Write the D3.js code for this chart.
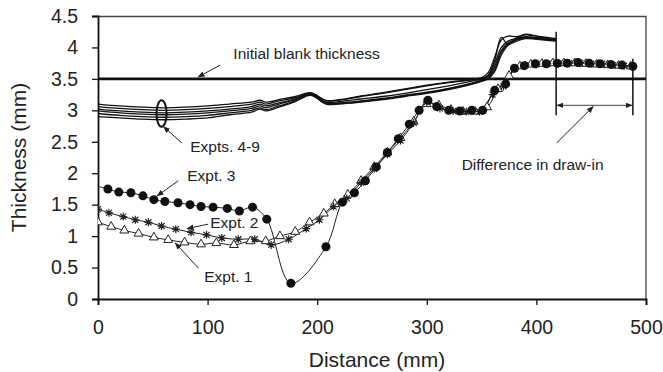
<!DOCTYPE html>
<html>
<head>
<meta charset="utf-8">
<script src="https://cdn.jsdelivr.net/npm/d3@7"></script>
<style>
  body { margin: 0; background: #fff; }
  svg { display: block; font-family: Arial, "Liberation Sans", sans-serif; }
</style>
</head>
<body>
<div id="chart"></div>
<script>
var width = 663,
    height = 372,
    margin = {top: 16, right: 17, bottom: 73, left: 98};

// expts 4-9 : plain lines on a shared distance grid
var simDist = [0, 20, 40, 60, 80, 100, 120, 140, 148, 153, 165, 180, 194, 208, 220, 240, 260, 280, 300, 320, 340, 350, 356, 362, 368, 374, 382, 390, 400, 418];
var expt4 = [3.10, 3.07, 3.05, 3.04, 3.05, 3.07, 3.10, 3.13, 3.16, 3.13, 3.17, 3.22, 3.28, 3.16, 3.17, 3.23, 3.28, 3.34, 3.40, 3.45, 3.49, 3.52, 3.60, 3.85, 4.12, 4.18, 4.17, 4.20, 4.18, 4.14];
var expt5 = [3.06, 3.03, 3.01, 3.00, 3.01, 3.03, 3.06, 3.10, 3.13, 3.10, 3.15, 3.20, 3.27, 3.15, 3.16, 3.22, 3.27, 3.33, 3.39, 3.44, 3.48, 3.50, 3.56, 3.80, 4.16, 4.05, 4.15, 4.21, 4.18, 4.12];
var expt6 = [3.02, 2.99, 2.97, 2.96, 2.97, 2.99, 3.02, 3.06, 3.10, 3.07, 3.12, 3.18, 3.26, 3.13, 3.14, 3.18, 3.22, 3.27, 3.33, 3.39, 3.46, 3.50, 3.55, 3.75, 4.00, 4.10, 4.15, 4.17, 4.16, 4.13];
var expt7 = [2.99, 2.96, 2.94, 2.93, 2.94, 2.96, 2.99, 3.03, 3.07, 3.04, 3.10, 3.17, 3.25, 3.12, 3.12, 3.15, 3.19, 3.24, 3.29, 3.35, 3.43, 3.48, 3.54, 3.70, 3.95, 4.07, 4.13, 4.16, 4.15, 4.12];
var expt8 = [2.95, 2.92, 2.90, 2.89, 2.90, 2.92, 2.96, 3.00, 3.04, 3.01, 3.07, 3.15, 3.25, 3.11, 3.11, 3.14, 3.18, 3.23, 3.28, 3.34, 3.42, 3.47, 3.52, 3.66, 3.92, 4.05, 4.12, 4.15, 4.14, 4.11];
var expt9 = [2.90, 2.88, 2.86, 2.85, 2.86, 2.88, 2.93, 2.97, 3.02, 2.99, 3.05, 3.14, 3.24, 3.10, 3.10, 3.13, 3.17, 3.22, 3.27, 3.33, 3.41, 3.46, 3.50, 3.62, 3.88, 4.03, 4.10, 4.14, 4.13, 4.10];

// expt 3 : filled circles
var e3Dist = [0, 9, 19, 30, 41, 51, 61, 73, 84, 94, 105, 118, 129, 141, 154, 176, 208, 223, 234, 244, 254, 264, 274, 284, 293, 301, 309, 320, 330, 341, 351, 362, 372, 380, 389, 399, 409, 419, 428, 438, 448, 458, 468, 478, 488];
var e3Thick = [1.79, 1.75, 1.70, 1.69, 1.64, 1.58, 1.55, 1.53, 1.50, 1.47, 1.46, 1.44, 1.40, 1.46, 1.27, 0.25, 0.83, 1.54, 1.69, 1.88, 2.10, 2.33, 2.55, 2.78, 3.00, 3.16, 3.06, 3.00, 2.99, 3.00, 3.00, 3.32, 3.42, 3.67, 3.71, 3.74, 3.74, 3.75, 3.75, 3.76, 3.75, 3.74, 3.73, 3.72, 3.70];

// expt 2 : stars
var e2Dist = [0, 10, 23, 34, 46, 58, 71, 85, 99, 113, 128, 143, 158, 174, 190, 202, 215, 227, 240, 252, 264, 276, 288, 300, 312, 324, 336, 348, 360, 370, 380, 390, 400, 410, 420, 430, 440, 450, 460, 470, 480, 488];
var e2Thick = [1.43, 1.37, 1.31, 1.26, 1.22, 1.16, 1.11, 1.06, 1.02, 0.97, 0.95, 0.95, 0.86, 0.95, 1.12, 1.26, 1.47, 1.60, 1.85, 2.07, 2.30, 2.52, 2.80, 3.13, 3.03, 2.99, 2.98, 2.98, 3.25, 3.38, 3.66, 3.72, 3.73, 3.74, 3.74, 3.75, 3.75, 3.74, 3.74, 3.72, 3.71, 3.69];

// expt 1 : open triangles
var e1Dist = [0, 12, 24, 37, 51, 64, 79, 94, 108, 124, 139, 153, 166, 180, 193, 206, 216, 228, 240, 252, 264, 276, 288, 300, 311, 322, 333, 344, 355, 365, 375, 385, 395, 405, 415, 425, 435, 445, 455, 465, 475, 486];
var e1Thick = [1.22, 1.15, 1.09, 1.04, 0.98, 0.94, 0.90, 0.87, 0.89, 0.86, 0.92, 0.92, 1.00, 1.07, 1.22, 1.36, 1.51, 1.66, 1.88, 2.10, 2.33, 2.56, 2.82, 3.10, 3.08, 3.01, 2.98, 2.98, 3.05, 3.34, 3.55, 3.70, 3.73, 3.74, 3.75, 3.75, 3.75, 3.74, 3.73, 3.72, 3.71, 3.70];

var blankThickness = 3.5;
var drawIn = [418, 488];

var xTicks = [0, 100, 200, 300, 400, 500];
var yTicks = [0, 0.5, 1, 1.5, 2, 2.5, 3, 3.5, 4, 4.5];

var svg = d3.select("#chart").append("svg")
    .attr("width", width)
    .attr("height", height);

var defs = svg.append("defs");
defs.append("marker")
    .attr("id", "head")
    .attr("viewBox", "0 0 10 10")
    .attr("refX", 9).attr("refY", 5)
    .attr("markerWidth", 7).attr("markerHeight", 7)
    .attr("markerUnits", "userSpaceOnUse")
    .attr("orient", "auto-start-reverse")
    .append("path")
    .attr("d", "M0,1 L10,5 L0,9 z")
    .attr("fill", "#222");
defs.append("clipPath").attr("id", "plotclip")
    .append("rect")
    .attr("width", width - margin.left - margin.right)
    .attr("height", height - margin.top - margin.bottom);

var g = svg.append("g")
    .attr("transform", "translate(" + margin.left + "," + margin.top + ")");

var w = width - margin.left - margin.right,
    h = height - margin.top - margin.bottom;

var x = d3.scaleLinear().domain([0, 500]).range([0, w]);
var y = d3.scaleLinear().domain([0, 4.5]).range([h, 0]);

// frame (top + right)
g.append("path")
    .attr("d", "M0,0.5 H" + w + " V" + h)
    .attr("fill", "none")
    .attr("stroke", "#444")
    .attr("stroke-width", 1.3);

// axes
var xAxis = g.append("g")
    .attr("transform", "translate(0," + h + ")")
    .call(d3.axisBottom(x).tickValues(xTicks).tickSize(6).tickPadding(15));
var yAxis = g.append("g")
    .call(d3.axisLeft(y).tickValues(yTicks).tickSize(6).tickPadding(14)
      .tickFormat(function(d) { return d; }));

[xAxis, yAxis].forEach(function(a) {
  a.select(".domain").attr("stroke", "#111").attr("stroke-width", 1.8);
  a.selectAll(".tick line").attr("stroke", "#111").attr("stroke-width", 1.3);
  a.selectAll(".tick text")
    .attr("fill", "#222")
    .style("font-size", "19.5px")
    .style("font-family", "Arial, 'Liberation Sans', sans-serif");
});

// axis titles
svg.append("text")
    .attr("x", margin.left + w / 2 + 5)
    .attr("y", 367)
    .attr("text-anchor", "middle")
    .style("font-size", "21px")
    .attr("fill", "#222")
    .text("Distance (mm)");
svg.append("text")
    .attr("transform", "translate(26," + (margin.top + h / 2) + ") rotate(-90)")
    .attr("text-anchor", "middle")
    .style("font-size", "21px")
    .attr("fill", "#222")
    .text("Thickness (mm)");

var plot = g.append("g").attr("clip-path", "url(#plotclip)");

// initial blank thickness line
plot.append("line")
    .attr("x1", 0).attr("x2", w)
    .attr("y1", y(blankThickness)).attr("y2", y(blankThickness))
    .attr("stroke", "#111")
    .attr("stroke-width", 2.8);

// expts 4-9
var smooth = d3.line()
    .x(function(d) { return x(d[0]); })
    .y(function(d) { return y(d[1]); })
    .curve(d3.curveCatmullRom.alpha(0.5));

[expt4, expt5, expt6, expt7, expt8, expt9].forEach(function(vals) {
  plot.append("path")
    .datum(simDist.map(function(d, i) { return [d, vals[i]]; }))
    .attr("d", smooth)
    .attr("fill", "none")
    .attr("stroke", "#111")
    .attr("stroke-width", 1.3);
});

function series(dist, thick) {
  return dist.map(function(d, i) { return [d, thick[i]]; });
}
var s1 = series(e1Dist, e1Thick),
    s2 = series(e2Dist, e2Thick),
    s3 = series(e3Dist, e3Thick);

[s1, s2, s3].forEach(function(s) {
  plot.append("path")
    .datum(s)
    .attr("d", smooth)
    .attr("fill", "none")
    .attr("stroke", "#222")
    .attr("stroke-width", 1);
});

// expt 1 markers
plot.selectAll(".tri")
    .data(s1)
    .enter().append("path")
    .attr("class", "tri")
    .attr("transform", function(d) { return "translate(" + x(d[0]) + "," + y(d[1]) + ")"; })
    .attr("d", d3.symbol().type(d3.symbolTriangle).size(34))
    .attr("fill", "#fff")
    .attr("stroke", "#222")
    .attr("stroke-width", 1);

// expt 2 markers
plot.selectAll(".star")
    .data(s2)
    .enter().append("path")
    .attr("class", "star")
    .attr("transform", function(d) { return "translate(" + x(d[0]) + "," + y(d[1]) + ")"; })
    .attr("d", "M-4,0H4M0,-4V4M-3,-3L3,3M-3,3L3,-3")
    .attr("fill", "none")
    .attr("stroke", "#222")
    .attr("stroke-width", 1.2);

// expt 3 markers
plot.selectAll(".dot")
    .data(s3.filter(function(d) { return d[0] > 0; }))
    .enter().append("circle")
    .attr("class", "dot")
    .attr("cx", function(d) { return x(d[0]); })
    .attr("cy", function(d) { return y(d[1]); })
    .attr("r", 4.5)
    .attr("fill", "#111");

// draw-in markers
var ann = g.append("g");
ann.append("line")
    .attr("x1", x(drawIn[0])).attr("x2", x(drawIn[0]))
    .attr("y1", y(4.25)).attr("y2", y(2.92))
    .attr("stroke", "#111").attr("stroke-width", 1.5);
ann.append("line")
    .attr("x1", x(drawIn[1])).attr("x2", x(drawIn[1]))
    .attr("y1", y(3.82)).attr("y2", y(2.92))
    .attr("stroke", "#111").attr("stroke-width", 1.5);
ann.append("line")
    .attr("x1", x(drawIn[0]) + 1).attr("x2", x(drawIn[1]) - 1)
    .attr("y1", y(3.08)).attr("y2", y(3.08))
    .attr("stroke", "#444").attr("stroke-width", 1)
    .attr("marker-start", "url(#head)")
    .attr("marker-end", "url(#head)");

// ellipse round expts 4-9
ann.append("ellipse")
    .attr("cx", x(58)).attr("cy", y(2.95))
    .attr("rx", x(4.6) - x(0))
    .attr("ry", y(2.95 - 0.21) - y(2.95))
    .attr("fill", "none")
    .attr("stroke", "#111")
    .attr("stroke-width", 2);

// pointer arrows: [fromDist, fromThick, toDist, toThick]
var arrows = [
  [111.5, 3.72, 91.4, 3.53],
  [76.6, 2.48, 59.8, 2.74],
  [73.2, 1.88, 54, 1.64],
  [100.5, 1.19, 81.4, 1.12],
  [91.7, 0.49, 70.5, 0.89],
  [418.4, 2.48, 451.8, 3.06]
];
ann.selectAll(".arrow")
    .data(arrows)
    .enter().append("line")
    .attr("class", "arrow")
    .attr("x1", function(d) { return x(d[0]); })
    .attr("y1", function(d) { return y(d[1]); })
    .attr("x2", function(d) { return x(d[2]); })
    .attr("y2", function(d) { return y(d[3]); })
    .attr("stroke", "#222")
    .attr("stroke-width", 1)
    .attr("marker-end", "url(#head)");

// labels: [text, dist, thick]
var labels = [
  ["Initial blank thickness", 123.5, 3.9],
  ["Expts. 4-9", 84.1, 2.42],
  ["Expt. 3", 81.4, 1.965],
  ["Expt. 2", 102.4, 1.21],
  ["Expt. 1", 96.9, 0.36],
  ["Difference in draw-in", 331.8, 2.14]
];
ann.selectAll(".lbl")
    .data(labels)
    .enter().append("text")
    .attr("class", "lbl")
    .attr("x", function(d) { return x(d[1]); })
    .attr("y", function(d) { return y(d[2]); })
    .attr("dy", "0.36em")
    .style("font-size", "15.5px")
    .attr("fill", "#222")
    .text(function(d) { return d[0]; });
</script>
</body>
</html>
